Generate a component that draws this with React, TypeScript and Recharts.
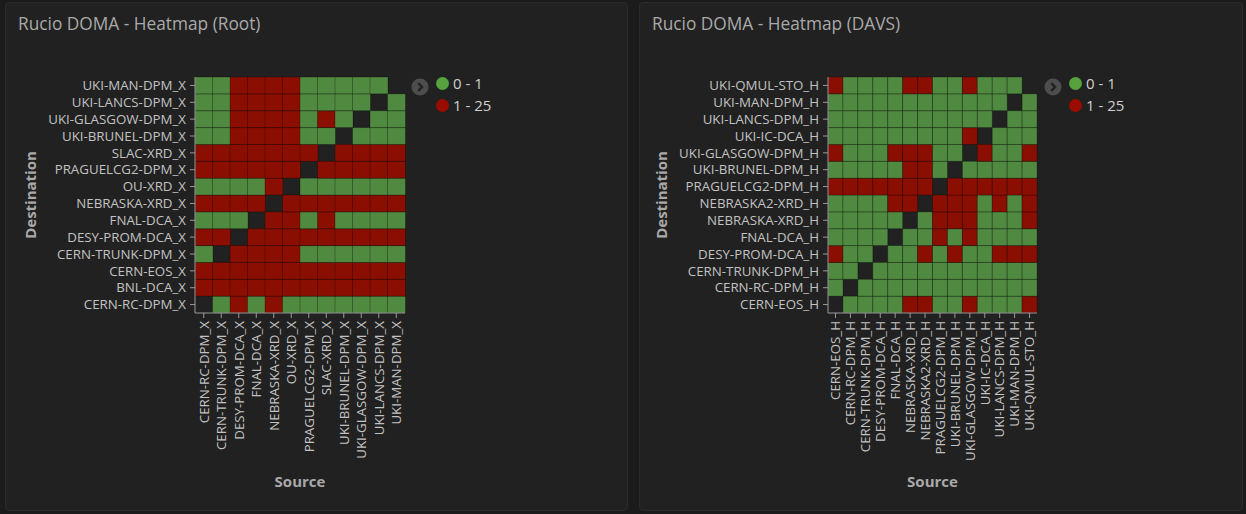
import React from 'react';
import { BarChart, Bar, XAxis, YAxis, Cell } from 'recharts';

const LOW_COLOR = '#508a40';
const HIGH_COLOR = '#8a0f02';
const LEGEND_LOW = '#56a23e';
const LEGEND_HIGH = '#9a0c00';

const legendItems = [
  { label: '0 - 1', color: LEGEND_LOW },
  { label: '1 - 25', color: LEGEND_HIGH },
];

// ---------- Root heatmap ----------
const rootSources = [
  'CERN-RC-DPM_X', 'CERN-TRUNK-DPM_X', 'DESY-PROM-DCA_X', 'FNAL-DCA_X', 'NEBRASKA-XRD_X', 'OU-XRD_X',
  'PRAGUELCG2-DPM_X', 'SLAC-XRD_X', 'UKI-BRUNEL-DPM_X', 'UKI-GLASGOW-DPM_X', 'UKI-LANCS-DPM_X', 'UKI-MAN-DPM_X',
];
// top to bottom
const rootDestinations = [
  'UKI-MAN-DPM_X', 'UKI-LANCS-DPM_X', 'UKI-GLASGOW-DPM_X', 'UKI-BRUNEL-DPM_X', 'SLAC-XRD_X', 'PRAGUELCG2-DPM_X',
  'OU-XRD_X', 'NEBRASKA-XRD_X', 'FNAL-DCA_X', 'DESY-PROM-DCA_X', 'CERN-TRUNK-DPM_X', 'CERN-EOS_X', 'BNL-DCA_X',
  'CERN-RC-DPM_X',
];
// g = 0 - 1, r = 1 - 25, - = no data ; one string per destination, one char per source
const rootCells = [
  'ggrrrrggggg-',
  'ggrrrrgggg-g',
  'ggrrrrgrg-gg',
  'ggrrrrgg-ggg',
  'rrrrrrr-rrrr',
  'rrrrrr-rrrrr',
  'ggggr-gggggg',
  'rrrr-rrrrrrr',
  'ggg-rrgrgggg',
  'rr-rrrrrrrrr',
  'g-rrrrgggggg',
  'rrrrrrrrrrrr',
  'rrrrrrrrrrrr',
  '-grgrggggggg',
];

// ---------- DAVS heatmap ----------
const davsSources = [
  'CERN-EOS_H', 'CERN-RC-DPM_H', 'CERN-TRUNK-DPM_H', 'DESY-PROM-DCA_H', 'FNAL-DCA_H', 'NEBRASKA-XRD_H',
  'NEBRASKA2-XRD_H', 'PRAGUELCG2-DPM_H', 'UKI-BRUNEL-DPM_H', 'UKI-GLASGOW-DPM_H', 'UKI-IC-DCA_H',
  'UKI-LANCS-DPM_H', 'UKI-MAN-DPM_H', 'UKI-QMUL-STO_H',
];
const davsDestinations = [
  'UKI-QMUL-STO_H', 'UKI-MAN-DPM_H', 'UKI-LANCS-DPM_H', 'UKI-IC-DCA_H', 'UKI-GLASGOW-DPM_H', 'UKI-BRUNEL-DPM_H',
  'PRAGUELCG2-DPM_H', 'NEBRASKA2-XRD_H', 'NEBRASKA-XRD_H', 'FNAL-DCA_H', 'DESY-PROM-DCA_H', 'CERN-TRUNK-DPM_H',
  'CERN-RC-DPM_H', 'CERN-EOS_H',
];
const davsCells = [
  'rggggrrggrggg-',
  'gggggggggggg-g',
  'ggggggggggg-gg',
  'gggggggggr-ggg',
  'rgggrrrgg-rggr',
  'gggggrrg-ggggg',
  'rrrrrrr-rrrrrr',
  'ggggrr-rrrgrgr',
  'ggggg-grrrgggr',
  'gggg-ggrgrgggg',
  'rgg-ggrgrggrrr',
  'gg-ggggggggggg',
  'g-gggggggggggg',
  '-ggggrrggrgggr',
];

const FONT = '"Open Sans", "DejaVu Sans", sans-serif';
const TICK_COLOR = '#c2c2c2';
const AXIS_COLOR = '#9a9a9a';
const TITLE_COLOR = '#a9a9a9';
const TICK_SIZE = 13.3;

function cellColor(code: string) {
  if (code === 'g') return LOW_COLOR;
  if (code === 'r') return HIGH_COLOR;
  return 'transparent';
}

const XTick = (props: any) => {
  const { x, y, payload } = props;
  return (
    <g transform={`translate(${x},${y})`}>
      <text transform="rotate(-90)" textAnchor="end" dy="0.36em" fill={TICK_COLOR} fontSize={TICK_SIZE} fontFamily={FONT}>
        {payload.value}
      </text>
    </g>
  );
};

const LegendBlock = ({ left, top }: { left: number; top: number }) => (
  <div style={{ position: 'absolute', left, top, width: 110, height: 44, fontFamily: FONT }}>
    <svg width={20} height={20} style={{ position: 'absolute', left: 0, top: 3 }}>
      <circle cx={10} cy={10} r={8.5} fill="#4d4d4d" />
      <path d="M8.3 6.2 L12 10 L8.3 13.8" stroke="#222" strokeWidth={2.4} fill="none" />
    </svg>
    {legendItems.map((it, i) => (
      <div key={it.label} style={{ position: 'absolute', left: 26, top: i * 22 - 1, height: 20, display: 'flex', alignItems: 'center' }}>
        <span style={{ display: 'inline-block', width: 13, height: 13, borderRadius: 7, background: it.color, marginRight: 4 }} />
        <span style={{ color: '#cfcfcf', fontSize: 15 }}>{it.label}</span>
      </div>
    ))}
  </div>
);

type HeatProps = {
  sources: string[];
  destinations: string[];
  cells: string[];
  pageLeft: number;
  chartWidth: number;
  yAxisWidth: number;
  plotWidth: number;
  destOffset: number;
  legendLeft: number;
};

const Heatmap = ({ sources, destinations, cells, pageLeft, chartWidth, yAxisWidth, plotWidth, destOffset, legendLeft }: HeatProps) => {
  const n = destinations.length;
  const data = sources.map((s) => {
    const row: any = { source: s };
    destinations.forEach((_, j) => {
      row['d' + j] = 1;
    });
    return row;
  });
  const bottomUp = destinations.map((_, j) => n - 1 - j);
  const yTicks = bottomUp.map((_, k) => k + 0.5);
  const marginLeft = 10;
  const marginRight = chartWidth - marginLeft - yAxisWidth - plotWidth;
  return (
    <div style={{ position: 'absolute', left: pageLeft, top: 0, width: chartWidth, height: 514 }}>
      <BarChart
        width={chartWidth}
        height={514}
        data={data}
        margin={{ top: 77, right: marginRight, bottom: 0, left: marginLeft }}
        barCategoryGap={0}
        style={{ fontFamily: FONT }}
      >
        <XAxis
          dataKey="source"
          type="category"
          interval={0}
          height={201}
          tick={<XTick />}
          tickSize={5}
          tickMargin={3}
          tickLine={{ stroke: AXIS_COLOR }}
          axisLine={{ stroke: AXIS_COLOR }}
          label={{
            value: 'Source',
            position: 'insideBottom',
            offset: 27,
            style: { fill: TITLE_COLOR, fontWeight: 'bold', fontSize: 15, fontFamily: FONT },
          }}
        />
        <YAxis
          type="number"
          domain={[0, n]}
          ticks={yTicks}
          width={yAxisWidth}
          interval={0}
          tickSize={5}
          tickMargin={4}
          tickFormatter={(v: number) => destinations[n - 1 - Math.floor(v)]}
          tick={{ fill: TICK_COLOR, fontSize: TICK_SIZE, fontFamily: FONT }}
          tickLine={{ stroke: AXIS_COLOR }}
          axisLine={{ stroke: AXIS_COLOR }}
          label={{
            value: 'Destination',
            angle: -90,
            position: 'insideLeft',
            offset: destOffset,
            style: { fill: TITLE_COLOR, fontWeight: 'bold', fontSize: 15, fontFamily: FONT, textAnchor: 'middle' },
          }}
        />
        {bottomUp.map((j) => (
          <Bar key={j} dataKey={'d' + j} stackId="s" isAnimationActive={false}>
            {sources.map((s, i) => {
              const code = cells[j][i];
              return (
                <Cell
                  key={s}
                  fill={cellColor(code)}
                  stroke={code === '-' ? 'none' : 'rgba(0,0,0,0.28)'}
                  strokeWidth={1}
                />
              );
            })}
          </Bar>
        ))}
      </BarChart>
      <LegendBlock left={legendLeft} top={74} />
    </div>
  );
};

const Panel = ({ left, width, title }: { left: number; width: number; title: string }) => (
  <div
    style={{
      position: 'absolute',
      left,
      top: 2,
      width,
      height: 509,
      background: '#212121',
      border: '1px solid #2b2b2b',
      borderRadius: 4,
      boxSizing: 'border-box',
    }}
  >
    <div style={{ position: 'absolute', left: 12, top: 9, color: TITLE_COLOR, fontSize: 17.3, fontFamily: FONT }}>{title}</div>
  </div>
);

export default function App() {
  return (
    <div style={{ position: 'absolute', left: 0, top: 0, width: 1246, height: 514, background: '#1b1b1b', overflow: 'hidden' }}>
      <Panel left={5} width={623} title="Rucio DOMA - Heatmap (Root)" />
      <Panel left={639} width={604} title="Rucio DOMA - Heatmap (DAVS)" />
      <Heatmap
        sources={rootSources}
        destinations={rootDestinations}
        cells={rootCells}
        pageLeft={0}
        chartWidth={630}
        yAxisWidth={185}
        plotWidth={210}
        destOffset={21}
        legendLeft={410}
      />
      <Heatmap
        sources={davsSources}
        destinations={davsDestinations}
        cells={davsCells}
        pageLeft={634}
        chartWidth={612}
        yAxisWidth={184}
        plotWidth={209}
        destOffset={18}
        legendLeft={409}
      />
    </div>
  );
}
